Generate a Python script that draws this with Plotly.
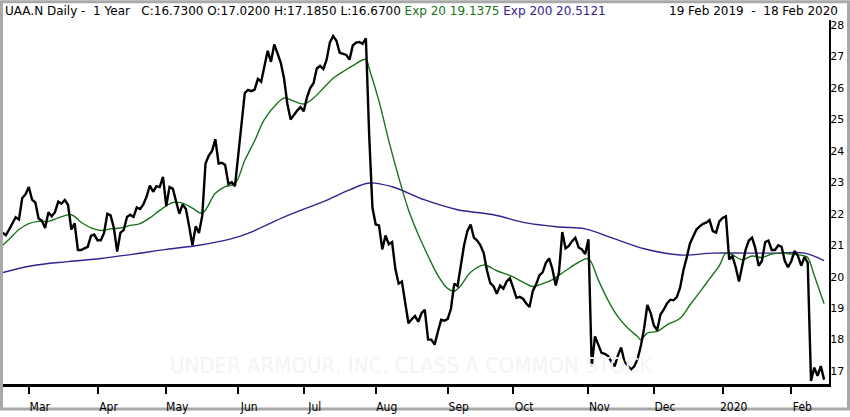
import pandas as pd
import plotly.graph_objects as go

# trading calendar 19 Feb 2019 - 18 Feb 2020 (NYSE holidays taken out)
holidays = ['2019-04-19', '2019-05-27', '2019-07-04', '2019-09-02', '2019-11-28',
            '2019-12-25', '2020-01-01', '2020-01-20', '2020-02-17']
days = pd.bdate_range('2019-02-19', '2020-02-18')
days = days[~days.isin(pd.to_datetime(holidays))]
dates = [d.strftime('%Y-%m-%d') for d in days]

# daily close
close = [
    21.40, 21.32, 21.50, 21.70, 21.89, 21.82, 22.50, 22.62, 22.85, 22.45,
    22.36, 21.85, 21.78, 21.55, 22.05, 21.92, 22.05, 22.39, 22.32, 22.44,
    22.28, 21.50, 21.70, 20.85, 20.85, 20.90, 20.95, 21.30, 21.34, 21.16,
    21.16, 21.39, 22.00, 21.95, 21.55, 20.80, 21.40, 21.48, 21.90, 21.97,
    21.90, 22.20, 22.15, 22.30, 22.55, 22.90, 22.70, 22.88, 22.85, 23.17,
    22.25, 22.85, 22.80, 22.40, 22.00, 22.30, 22.15, 21.60, 21.00, 21.60,
    21.39, 21.94, 23.60, 23.85, 24.00, 24.37, 23.60, 23.62, 23.55, 22.95,
    23.00, 22.88, 23.90, 24.90, 25.84, 25.94, 25.90, 25.95, 26.29, 26.20,
    26.70, 27.18, 26.83, 27.38, 27.10, 26.80, 26.30, 25.50, 25.00, 25.16,
    25.28, 25.39, 25.26, 25.70, 26.00, 26.15, 26.62, 26.70, 26.60, 26.90,
    27.45, 27.65, 27.50, 27.12, 27.09, 27.05, 26.90, 27.35, 27.44, 27.46,
    27.40, 27.58, 24.50, 22.20, 21.66, 21.63, 20.87, 21.31, 21.03, 21.10,
    20.25, 19.78, 19.85, 19.10, 18.52, 18.65, 18.75, 18.57, 18.84, 18.95,
    18.00, 18.00, 17.84, 18.26, 18.63, 18.60, 18.66, 18.99, 19.78, 19.70,
    20.30, 21.00, 21.45, 21.66, 21.24, 21.15, 21.00, 20.75, 20.20, 19.80,
    19.70, 19.46, 19.72, 19.62, 19.85, 19.95, 19.65, 19.33, 19.36, 19.30,
    19.15, 19.04, 19.55, 19.75, 20.04, 20.14, 20.44, 20.58, 20.24, 19.72,
    20.14, 21.42, 20.90, 20.98, 21.13, 21.24, 20.93, 20.87, 20.72, 21.19,
    17.16, 18.10, 17.84, 17.58, 17.55, 17.48, 17.30, 17.15, 17.50, 17.75,
    17.30, 17.18, 17.05, 17.15, 17.38, 17.80, 18.35, 19.10, 18.85, 18.45,
    18.30, 18.80, 18.95, 19.15, 19.27, 19.25, 19.35, 19.65, 20.20, 20.60,
    21.05, 21.28, 21.50, 21.60, 21.68, 21.72, 21.80, 21.45, 21.40, 21.76,
    21.87, 21.92, 20.55, 20.65, 20.30, 19.85, 20.30, 20.85, 21.15, 21.24,
    20.90, 20.35, 20.50, 21.10, 21.15, 20.85, 20.85, 21.00, 20.95, 20.50,
    20.30, 20.50, 20.82, 20.66, 20.35, 20.62, 20.45, 16.69, 17.11, 16.85,
    17.16, 16.73,
]

# exponential averages, sampled along the chart (trading-day number, value)
ema20_day = [0, 2, 5, 8, 11, 14, 17, 21, 24, 27, 30, 33, 36, 39, 42, 45, 48, 52,
             55, 58, 61, 65, 68, 71, 74, 77, 80, 84, 86, 89, 92, 95, 98, 101, 104,
             107, 111, 112, 115, 118, 121, 124, 127, 130, 133, 136, 138, 140, 143,
             147, 151, 155, 159, 162, 165, 168, 172, 176, 179, 182, 185, 188, 191,
             194, 195, 197, 200, 203, 207, 210, 213, 216, 219, 221, 223, 226, 229,
             232, 235, 238, 241, 245, 246, 248, 251]
ema20 = [21.00, 21.19, 21.50, 21.69, 21.76, 21.76, 21.87, 21.97, 21.73, 21.55,
         21.47, 21.52, 21.55, 21.63, 21.69, 21.87, 22.11, 22.36, 22.34, 22.18,
         22.02, 22.65, 22.86, 22.96, 23.70, 24.32, 25.00, 25.52, 25.68, 25.58,
         25.49, 25.68, 25.99, 26.31, 26.52, 26.71, 26.91, 26.62, 25.58, 24.32,
         23.17, 22.13, 21.34, 20.66, 20.04, 19.62, 19.54, 19.72, 20.14, 20.37,
         20.19, 20.04, 19.83, 19.69, 19.78, 19.91, 20.19, 20.46, 20.57, 19.90,
         19.25, 18.73, 18.37, 18.10, 18.00, 18.21, 18.26, 18.47, 18.68, 19.10,
         19.51, 19.93, 20.35, 20.75, 20.69, 20.54, 20.66, 20.61, 20.72, 20.75,
         20.72, 20.66, 20.61, 20.04, 19.14]

ema200_day = [0, 9, 20, 30, 40, 50, 60, 70, 75, 87, 98, 106, 112, 119, 129, 139,
              150, 160, 170, 178, 186, 196, 207, 217, 227, 237, 245, 251]
ema200 = [20.13, 20.35, 20.48, 20.58, 20.72, 20.87, 21.00, 21.21, 21.38, 21.94,
          22.39, 22.76, 22.98, 22.86, 22.44, 22.13, 21.97, 21.71, 21.58, 21.52,
          21.24, 20.89, 20.69, 20.75, 20.75, 20.75, 20.75, 20.51]

month_labels = ['Mar', 'Apr', 'May', 'Jun', 'Jul', 'Aug', 'Sep', 'Oct', 'Nov',
                'Dec', '2020', 'Feb']
month_ticks = [dates[i] for i in range(1, len(dates)) if dates[i][5:7] != dates[i - 1][5:7]]

fig = go.Figure()
fig.add_trace(go.Scatter(x=[dates[i] for i in ema200_day], y=ema200, mode='lines',
                         line=dict(color='#36208f', width=1.4, shape='spline')))
fig.add_trace(go.Scatter(x=[dates[i] for i in ema20_day], y=ema20, mode='lines',
                         line=dict(color='#1a731a', width=1.4, shape='spline')))
fig.add_trace(go.Scatter(x=dates, y=close, mode='lines',
                         line=dict(color='black', width=2.4)))

fig.update_xaxes(type='category', categoryorder='array', categoryarray=dates,
                 range=[0.12, 252.5], tickvals=month_ticks, ticktext=month_labels,
                 ticks='outside', ticklen=7, tickwidth=2, tickcolor='black',
                 ticklabelshift=11, ticklabelstandoff=3,
                 showline=True, linecolor='black', linewidth=3,
                 showgrid=False, zeroline=False,
                 tickfont=dict(family='DejaVu Sans Condensed', size=12, color='black'))
fig.update_yaxes(side='right', range=[16.59, 28.16], tickvals=list(range(17, 29)),
                 ticks='', ticklabelstandoff=-3,
                 showline=True, linecolor='black', linewidth=2,
                 showgrid=False, zeroline=False,
                 tickfont=dict(family='DejaVu Sans', size=11, color='black'))

head = ('UAA.N Daily -\u00a0 1 Year\u00a0\u00a0 C:16.7300 O:17.0200 H:17.1850 L:16.6700 '
        '<span style="color:#1a731a">Exp 20 19.1375</span> '
        '<span style="color:#36208f">Exp 200 20.5121</span>')
fig.add_annotation(text=head, xref='paper', yref='paper', x=0, y=1.0243,
                   xanchor='left', yanchor='middle', showarrow=False,
                   font=dict(family='DejaVu Sans', size=12, color='black'))
fig.add_annotation(text='19 Feb 2019\u00a0 -\u00a0 18 Feb 2020', xref='paper', yref='paper',
                   x=1.0134, y=1.0243, xanchor='right', yanchor='middle', showarrow=False,
                   font=dict(family='DejaVu Sans', size=12, color='black'))
fig.add_annotation(text='UNDER ARMOUR, INC. CLASS A COMMON STOCK', xref='paper', yref='paper',
                   x=0.495, y=0.05, xanchor='center', yanchor='middle', showarrow=False,
                   font=dict(family='DejaVu Sans Condensed', size=22, color='#f4f4f4'))

# grey frame round the whole picture
fig.add_shape(type='rect', xref='paper', yref='paper',
              x0=-0.0018, x1=1.0236, y0=-0.0689, y1=1.0500,
              line=dict(color='#a9a9a9', width=3), layer='below')

fig.update_layout(width=850, height=417, margin=dict(l=3, r=21, t=20, b=27),
                  paper_bgcolor='white', plot_bgcolor='white', showlegend=False)

# the page body has a default 8px margin; drop it so the figure sits at the corner
fig.write_html("out.html", config={'displayModeBar': False},
               post_script="document.body.style.margin = '0';")
